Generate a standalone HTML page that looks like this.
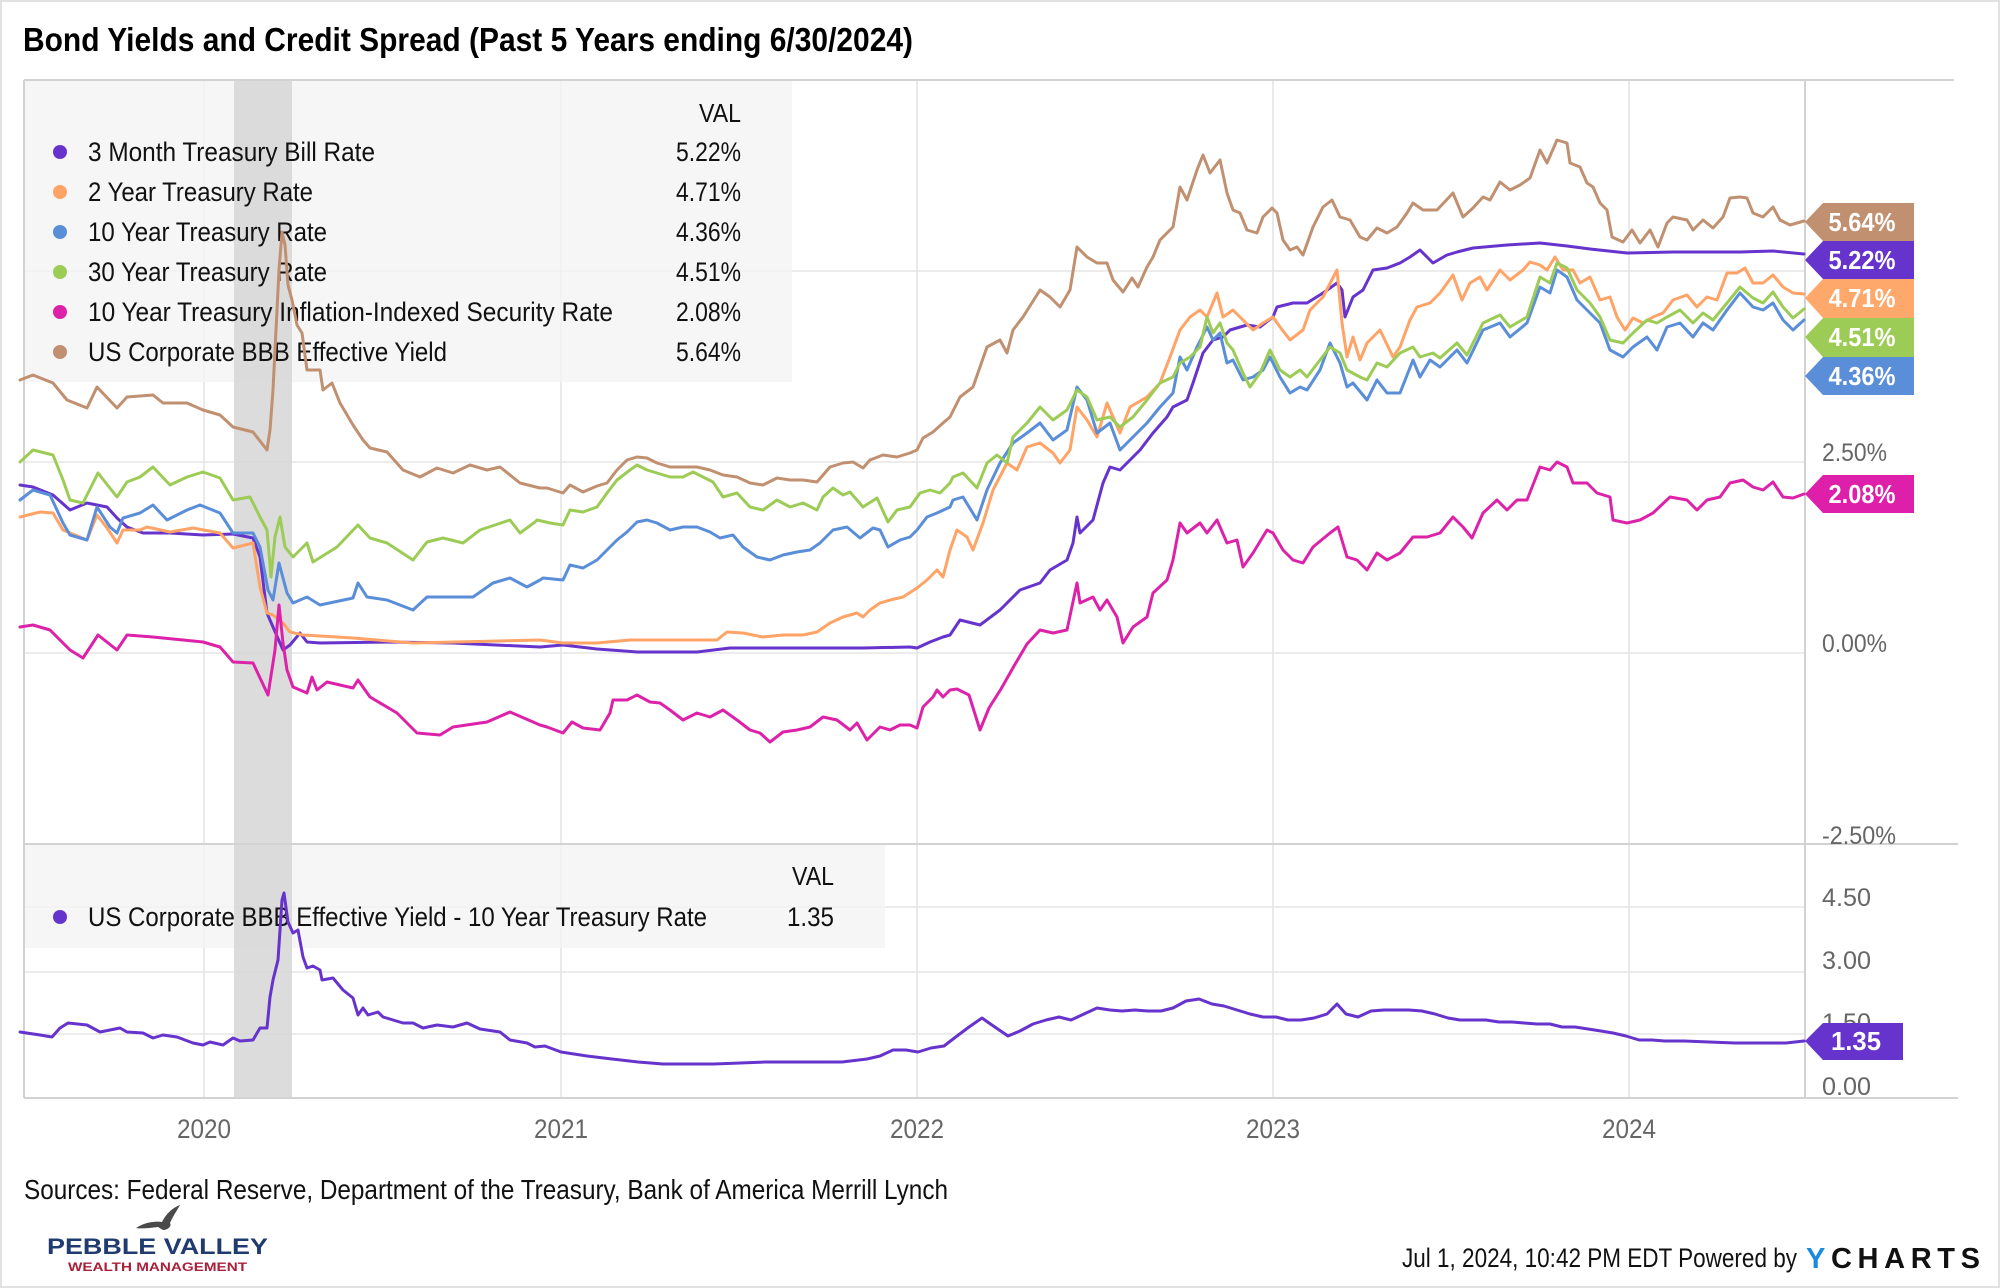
<!DOCTYPE html>
<html>
<head>
<meta charset="utf-8">
<style>
  html,body{margin:0;padding:0;background:#fff;}
  svg{display:block;}
  text{font-family:"Liberation Sans",Arial,sans-serif;}
</style>
</head>
<body>
<svg width="2000" height="1288" viewBox="0 0 2000 1288" xmlns="http://www.w3.org/2000/svg">
  <rect x="0" y="0" width="2000" height="1288" fill="#ffffff"/>
  <rect x="1" y="1" width="1998" height="1286" fill="none" stroke="#e2e2e2" stroke-width="2"/>

  <!-- Title -->
  <text x="23" y="51" font-size="33" font-weight="bold" fill="#000" textLength="890" lengthAdjust="spacingAndGlyphs">Bond Yields and Credit Spread (Past 5 Years ending 6/30/2024)</text>

  <!-- gridlines -->
  <g stroke="#ececec" stroke-width="2">
    <line x1="24" y1="271" x2="1805" y2="271"/>
    <line x1="24" y1="462" x2="1805" y2="462"/>
    <line x1="24" y1="653" x2="1805" y2="653"/>
    <line x1="24" y1="907" x2="1805" y2="907"/>
    <line x1="24" y1="972" x2="1805" y2="972"/>
    <line x1="24" y1="1034" x2="1805" y2="1034"/>
  </g>
  <g stroke="#e4e4e4" stroke-width="1.5">
    <line x1="204" y1="80" x2="204" y2="1098"/>
    <line x1="561" y1="80" x2="561" y2="1098"/>
    <line x1="917" y1="80" x2="917" y2="1098"/>
    <line x1="1273" y1="80" x2="1273" y2="1098"/>
    <line x1="1629" y1="80" x2="1629" y2="1098"/>
  </g>

  <!-- legend boxes -->
  <rect x="24" y="80" width="768" height="302" fill="#f3f3f3" fill-opacity="0.78"/>
  <rect x="24" y="845" width="861" height="103" fill="#f3f3f3" fill-opacity="0.78"/>

  <!-- recession band -->
  <rect x="234" y="80" width="58" height="1018" fill="#d6d6d6" fill-opacity="0.85"/>

  <!-- frame lines -->
  <g stroke="#d2d2d2" stroke-width="2" fill="none">
    <line x1="24" y1="80" x2="1954" y2="80"/>
    <line x1="24" y1="844" x2="1958" y2="844"/>
    <line x1="24" y1="1098" x2="1958" y2="1098"/>
    <line x1="24" y1="80" x2="24" y2="1098"/>
    <line x1="1805" y1="80" x2="1805" y2="1098"/>
  </g>

  <!-- Legend text top -->
  <text x="741" y="122" font-size="26" fill="#111" text-anchor="end" textLength="42" lengthAdjust="spacingAndGlyphs">VAL</text>
  <g font-size="27" fill="#111">
    <circle cx="60" cy="152" r="7" fill="#6633cc"/>
    <text x="88" y="161" textLength="287" lengthAdjust="spacingAndGlyphs">3 Month Treasury Bill Rate</text>
    <text x="741" y="161" text-anchor="end" textLength="65" lengthAdjust="spacingAndGlyphs">5.22%</text>
    <circle cx="60" cy="192" r="7" fill="#ffa366"/>
    <text x="88" y="201" textLength="225" lengthAdjust="spacingAndGlyphs">2 Year Treasury Rate</text>
    <text x="741" y="201" text-anchor="end" textLength="65" lengthAdjust="spacingAndGlyphs">4.71%</text>
    <circle cx="60" cy="232" r="7" fill="#5a8ed9"/>
    <text x="88" y="241" textLength="239" lengthAdjust="spacingAndGlyphs">10 Year Treasury Rate</text>
    <text x="741" y="241" text-anchor="end" textLength="65" lengthAdjust="spacingAndGlyphs">4.36%</text>
    <circle cx="60" cy="272" r="7" fill="#9ccc55"/>
    <text x="88" y="281" textLength="239" lengthAdjust="spacingAndGlyphs">30 Year Treasury Rate</text>
    <text x="741" y="281" text-anchor="end" textLength="65" lengthAdjust="spacingAndGlyphs">4.51%</text>
    <circle cx="60" cy="312" r="7" fill="#dd22aa"/>
    <text x="88" y="321" textLength="525" lengthAdjust="spacingAndGlyphs">10 Year Treasury Inflation-Indexed Security Rate</text>
    <text x="741" y="321" text-anchor="end" textLength="65" lengthAdjust="spacingAndGlyphs">2.08%</text>
    <circle cx="60" cy="352" r="7" fill="#c09070"/>
    <text x="88" y="361" textLength="359" lengthAdjust="spacingAndGlyphs">US Corporate BBB Effective Yield</text>
    <text x="741" y="361" text-anchor="end" textLength="65" lengthAdjust="spacingAndGlyphs">5.64%</text>
  </g>
  <!-- Legend lower -->
  <text x="834" y="885" font-size="26" fill="#111" text-anchor="end" textLength="42" lengthAdjust="spacingAndGlyphs">VAL</text>
  <circle cx="60" cy="917" r="7" fill="#6633cc"/>
  <text x="88" y="926" font-size="27" fill="#111" textLength="619" lengthAdjust="spacingAndGlyphs">US Corporate BBB Effective Yield - 10 Year Treasury Rate</text>
  <text x="834" y="926" font-size="27" fill="#111" text-anchor="end" textLength="47" lengthAdjust="spacingAndGlyphs">1.35</text>

  <!-- Series -->
  <g fill="none" stroke-width="3" stroke-linejoin="round" stroke-linecap="round">
    <polyline stroke="#6633cc" points="20,485 33,487 53,495 70,510 87,503 107,507 117,518 127,527 143,533 170,533 203,535 233,534 253,538 260,557 267,613 273,627 283,650 290,645 300,633 307,642 320,643 387,642 453,643 540,647 563,645 597,649 637,652 697,652 730,648 797,648 863,648 910,647 917,648 930,642 943,637 950,635 960,620 980,625 1000,610 1020,590 1040,583 1050,570 1067,560 1073,543 1077,517 1080,533 1093,520 1103,483 1110,467 1120,470 1130,460 1140,450 1153,433 1167,417 1173,407 1187,400 1193,383 1203,353 1213,340 1223,337 1230,330 1247,325 1260,327 1273,317 1277,307 1293,303 1307,303 1323,293 1337,283 1342,290 1345,317 1353,297 1363,290 1373,270 1387,268 1400,263 1410,257 1420,250 1433,263 1447,255 1457,252 1473,248 1507,245 1540,243 1567,246 1590,249 1627,253 1673,252 1707,252 1740,252 1773,251 1804,254"/>
    <polyline stroke="#ffa366" points="20,517 40,512 53,513 63,530 87,540 97,515 107,528 117,543 123,530 140,530 147,527 170,532 193,528 220,533 233,548 253,543 260,587 267,613 273,615 283,623 290,632 303,635 337,637 353,638 413,643 540,640 563,643 597,643 630,640 663,640 697,640 717,640 727,632 743,633 763,637 783,635 803,635 817,632 830,623 843,617 857,613 863,617 870,610 880,603 890,600 903,597 917,588 927,580 937,570 943,577 950,550 957,530 967,537 973,550 983,523 993,490 1007,463 1017,470 1027,447 1040,443 1053,453 1060,463 1070,450 1077,407 1087,420 1097,437 1107,403 1120,433 1130,407 1147,397 1160,383 1170,357 1180,330 1190,317 1200,310 1207,317 1217,293 1223,317 1233,310 1243,320 1253,330 1263,323 1273,317 1280,327 1290,340 1303,330 1310,310 1323,297 1337,270 1342,323 1347,357 1353,337 1360,360 1367,343 1373,337 1380,330 1393,357 1400,347 1410,320 1417,307 1430,303 1440,293 1453,275 1462,300 1470,283 1480,277 1487,290 1500,270 1510,280 1523,270 1530,262 1540,265 1547,270 1555,257 1563,270 1573,270 1580,283 1590,277 1600,300 1610,297 1617,317 1625,330 1633,318 1643,323 1653,317 1663,313 1673,300 1687,295 1697,307 1707,297 1717,300 1727,273 1737,273 1745,268 1753,283 1763,283 1773,275 1783,287 1793,293 1804,294"/>
    <polyline stroke="#5a8ed9" points="20,500 33,490 50,495 63,523 70,535 87,540 97,507 110,527 117,533 123,518 140,513 153,505 167,520 187,510 200,505 220,513 233,533 253,533 260,547 268,590 273,600 279,563 287,593 293,603 307,597 320,605 353,598 358,583 367,597 387,600 413,610 427,597 453,597 473,597 493,583 510,578 527,587 540,580 543,578 563,580 570,565 583,568 597,560 607,550 617,540 627,532 637,522 647,520 657,523 670,530 683,527 697,527 710,532 720,538 733,535 743,547 757,557 770,560 783,555 797,552 810,550 820,543 833,530 847,527 860,538 873,528 880,530 888,547 900,540 910,537 917,530 927,517 937,513 950,507 953,500 963,497 977,520 987,490 1000,463 1013,443 1027,433 1040,423 1053,440 1067,430 1077,387 1087,400 1097,433 1110,423 1120,450 1133,437 1147,423 1160,407 1173,393 1180,357 1187,370 1197,347 1207,327 1213,340 1220,333 1227,363 1233,360 1243,380 1253,377 1263,370 1270,357 1280,377 1290,393 1300,387 1307,390 1320,370 1330,343 1340,363 1347,387 1353,383 1367,400 1377,380 1387,393 1400,393 1413,360 1420,377 1430,360 1440,367 1457,350 1467,363 1483,330 1500,323 1510,337 1527,323 1540,287 1550,293 1557,270 1567,277 1577,300 1590,313 1600,323 1610,350 1623,357 1633,347 1647,337 1657,350 1667,327 1680,323 1693,337 1703,323 1713,330 1727,310 1740,293 1753,307 1763,310 1773,303 1783,320 1793,330 1804,320"/>
    <polyline stroke="#9ccc55" points="20,462 33,450 53,455 63,480 70,500 83,503 98,473 117,497 127,482 140,477 153,467 170,485 187,477 203,472 220,478 233,500 250,497 260,517 267,530 271,577 275,537 280,517 285,547 293,557 307,543 313,562 337,547 358,525 370,538 387,543 413,560 427,542 443,538 463,543 480,530 510,520 520,533 535,522 537,520 550,523 563,525 570,510 583,512 597,507 607,493 617,480 630,470 637,465 647,470 657,473 670,477 683,477 693,472 703,477 713,482 723,497 737,493 750,507 763,510 777,500 790,507 803,503 817,510 823,497 833,488 843,495 850,492 863,507 877,498 888,522 897,510 910,507 920,493 930,490 940,493 950,483 953,477 963,473 977,488 987,463 997,455 1007,463 1013,437 1027,423 1040,407 1053,420 1067,410 1077,390 1087,397 1097,420 1110,417 1120,427 1133,417 1147,400 1160,383 1173,377 1180,363 1190,357 1200,347 1207,317 1213,333 1220,323 1227,343 1233,350 1243,373 1250,387 1260,373 1270,350 1280,370 1290,377 1300,370 1307,377 1320,360 1330,347 1340,353 1347,370 1360,377 1367,380 1377,363 1387,367 1400,353 1413,347 1420,357 1433,353 1440,358 1457,343 1467,355 1483,323 1500,315 1510,327 1527,317 1540,277 1550,283 1557,263 1567,268 1577,290 1590,303 1600,317 1610,340 1623,343 1633,333 1647,320 1657,323 1667,317 1680,310 1693,323 1703,313 1713,320 1727,303 1740,287 1753,298 1763,303 1773,292 1783,307 1793,318 1804,309"/>
    <polyline stroke="#dd22aa" points="20,627 33,625 50,630 70,650 83,658 98,635 117,650 127,635 153,637 203,642 220,647 233,662 253,663 268,695 275,650 279,605 283,643 287,670 293,687 307,693 312,677 317,690 327,682 353,688 358,680 370,697 397,713 417,733 440,735 453,727 487,722 510,712 540,725 547,727 563,733 572,722 583,728 600,730 610,713 613,700 627,700 637,695 650,702 660,703 670,710 683,720 697,713 710,717 723,710 737,720 750,730 760,733 770,742 783,732 797,730 810,727 823,717 837,720 850,730 857,723 867,740 880,727 890,730 900,725 910,725 917,728 923,707 933,697 937,690 943,697 950,690 957,689 969,695 980,730 989,708 1001,689 1014,666 1027,644 1040,630 1053,633 1067,630 1077,583 1080,603 1093,597 1100,610 1107,600 1117,617 1123,643 1133,627 1147,617 1153,593 1167,580 1173,560 1180,523 1187,533 1200,523 1207,533 1217,520 1227,543 1237,540 1243,567 1253,553 1267,530 1273,533 1283,550 1293,560 1303,563 1313,547 1330,533 1338,527 1347,557 1357,560 1367,570 1377,553 1387,560 1400,553 1413,537 1427,537 1440,533 1453,517 1463,527 1472,538 1483,513 1497,500 1507,510 1517,500 1527,500 1540,467 1550,470 1557,462 1567,467 1573,483 1587,483 1597,493 1610,497 1613,520 1627,523 1640,520 1653,513 1670,497 1687,500 1697,510 1707,500 1720,497 1730,483 1743,480 1753,487 1763,490 1773,482 1783,497 1793,498 1804,494"/>
    <polyline stroke="#c09070" points="20,380 33,375 53,383 67,400 87,408 97,387 117,408 127,397 153,395 163,403 187,403 203,410 220,415 233,427 253,432 267,450 270,430 273,390 276,330 279,270 282,232 285,245 288,285 292,300 297,325 302,333 307,370 320,370 323,390 332,383 340,403 353,425 363,440 370,448 387,452 403,470 420,477 437,468 453,473 470,465 487,470 500,467 520,483 540,488 547,488 563,493 570,485 583,492 597,486 607,483 617,470 627,460 637,457 647,458 657,463 670,467 683,467 697,467 710,470 723,475 737,477 750,483 763,485 777,478 790,480 803,480 817,482 830,467 843,463 853,462 863,468 870,460 883,455 897,457 910,453 917,450 923,438 933,432 943,423 950,417 960,397 973,387 987,347 1000,340 1007,353 1013,330 1023,317 1040,290 1050,297 1060,307 1070,290 1077,247 1087,257 1097,263 1107,263 1113,280 1123,292 1132,278 1138,287 1147,267 1153,257 1160,240 1173,227 1180,187 1187,200 1197,170 1203,155 1210,173 1220,160 1227,193 1233,210 1240,213 1247,230 1257,233 1263,217 1272,208 1277,213 1283,240 1290,250 1297,247 1303,255 1313,227 1323,207 1332,200 1340,217 1350,220 1360,237 1367,240 1377,228 1387,233 1397,227 1407,213 1413,203 1423,210 1437,210 1453,193 1463,217 1473,208 1483,197 1490,200 1500,182 1510,190 1520,185 1530,178 1540,150 1547,163 1557,140 1567,143 1570,163 1580,167 1587,183 1593,187 1600,203 1607,210 1612,237 1623,242 1632,230 1640,243 1650,230 1658,247 1667,223 1673,217 1687,220 1693,230 1703,220 1713,228 1723,217 1730,198 1740,197 1747,198 1753,213 1763,217 1773,207 1780,220 1790,225 1804,221"/>
    <polyline stroke="#6633cc" points="20,1032 40,1035 52,1037 60,1028 68,1023 87,1025 100,1032 120,1028 127,1032 143,1033 153,1038 163,1035 177,1037 193,1043 203,1045 210,1042 223,1045 233,1038 240,1041 253,1040 260,1028 267,1028 270,997 273,980 278,960 282,900 284,893 288,922 293,933 298,930 303,957 307,968 313,966 320,970 322,980 333,978 343,990 353,998 358,1015 363,1008 368,1015 378,1012 383,1017 403,1023 413,1023 423,1028 437,1025 453,1027 467,1023 480,1029 500,1032 510,1040 527,1043 535,1047 545,1046 561,1052 587,1056 612,1059 638,1062 663,1064 714,1064 765,1062 816,1062 842,1062 867,1059 880,1056 893,1050 906,1050 918,1052 931,1048 944,1046 957,1036 969,1027 982,1018 989,1023 1008,1036 1020,1031 1033,1024 1046,1020 1059,1017 1071,1020 1084,1014 1097,1008 1110,1010 1122,1011 1135,1010 1148,1011 1161,1011 1173,1008 1186,1001 1199,999 1212,1004 1224,1006 1237,1010 1250,1014 1263,1017 1276,1017 1288,1020 1301,1020 1314,1018 1327,1014 1337,1004 1346,1014 1358,1017 1371,1011 1384,1010 1397,1010 1409,1010 1422,1011 1435,1014 1448,1018 1460,1020 1473,1020 1486,1020 1499,1022 1512,1022 1524,1023 1537,1024 1550,1024 1562,1027 1575,1027 1588,1029 1601,1031 1613,1033 1626,1036 1639,1040 1652,1040 1665,1041 1684,1041 1709,1042 1735,1043 1760,1043 1786,1043 1804,1041"/>
  </g>

  <!-- Right axis labels -->
  <g font-size="25" fill="#666">
    <text x="1822" y="461" textLength="65" lengthAdjust="spacingAndGlyphs">2.50%</text>
    <text x="1822" y="652" textLength="65" lengthAdjust="spacingAndGlyphs">0.00%</text>
    <text x="1822" y="844" textLength="74" lengthAdjust="spacingAndGlyphs">-2.50%</text>
    <text x="1822" y="906" textLength="49" lengthAdjust="spacingAndGlyphs">4.50</text>
    <text x="1822" y="969" textLength="49" lengthAdjust="spacingAndGlyphs">3.00</text>
    <text x="1822" y="1031" textLength="49" lengthAdjust="spacingAndGlyphs">1.50</text>
    <text x="1822" y="1095" textLength="49" lengthAdjust="spacingAndGlyphs">0.00</text>
  </g>

  <!-- Badges -->
  <g font-size="26" font-weight="bold" fill="#fff" text-anchor="middle">
    <polygon points="1805,222 1823,203 1914,203 1914,241 1823,241" fill="#c09070"/>
    <text x="1862" y="231" textLength="67" lengthAdjust="spacingAndGlyphs">5.64%</text>
    <polygon points="1805,260 1823,241 1914,241 1914,279 1823,279" fill="#6633cc"/>
    <text x="1862" y="269" textLength="67" lengthAdjust="spacingAndGlyphs">5.22%</text>
    <polygon points="1805,298 1823,279 1914,279 1914,318 1823,318" fill="#ffa86c"/>
    <text x="1862" y="307" textLength="67" lengthAdjust="spacingAndGlyphs">4.71%</text>
    <polygon points="1805,337 1823,318 1914,318 1914,357 1823,357" fill="#9ccc55"/>
    <text x="1862" y="346" textLength="67" lengthAdjust="spacingAndGlyphs">4.51%</text>
    <polygon points="1805,376 1823,357 1914,357 1914,395 1823,395" fill="#5a8ed9"/>
    <text x="1862" y="385" textLength="67" lengthAdjust="spacingAndGlyphs">4.36%</text>
    <polygon points="1805,494 1823,475 1914,475 1914,513 1823,513" fill="#dd1faa"/>
    <text x="1862" y="503" textLength="67" lengthAdjust="spacingAndGlyphs">2.08%</text>
    <polygon points="1805,1041 1823,1023 1903,1023 1903,1060 1823,1060" fill="#6633cc"/>
    <text x="1856" y="1050" textLength="50" lengthAdjust="spacingAndGlyphs">1.35</text>
  </g>

  <!-- X axis labels -->
  <g font-size="27" fill="#666" text-anchor="middle">
    <text x="204" y="1138" textLength="54" lengthAdjust="spacingAndGlyphs">2020</text>
    <text x="561" y="1138" textLength="54" lengthAdjust="spacingAndGlyphs">2021</text>
    <text x="917" y="1138" textLength="54" lengthAdjust="spacingAndGlyphs">2022</text>
    <text x="1273" y="1138" textLength="54" lengthAdjust="spacingAndGlyphs">2023</text>
    <text x="1629" y="1138" textLength="54" lengthAdjust="spacingAndGlyphs">2024</text>
  </g>

  <!-- Sources -->
  <text x="24" y="1199" font-size="28" fill="#111" textLength="924" lengthAdjust="spacingAndGlyphs">Sources: Federal Reserve, Department of the Treasury, Bank of America Merrill Lynch</text>

  <!-- Pebble Valley logo -->
  <path d="M136,1228 C145,1222 156,1221 162,1222 C166,1214 172,1208 180,1205 C176,1212 172,1218 170,1223 C172,1226 168,1230 163,1230 L158,1227 C150,1228 142,1229 136,1228 Z" fill="#4a4a4a"/>
  <text x="47" y="1254" font-size="22" font-weight="bold" fill="#1f3b70" textLength="221" lengthAdjust="spacingAndGlyphs">PEBBLE VALLEY</text>
  <text x="68" y="1271" font-size="12" font-weight="bold" fill="#a8203a" textLength="179" lengthAdjust="spacingAndGlyphs">WEALTH MANAGEMENT</text>

  <!-- Footer -->
  <text x="1402" y="1267" font-size="27" fill="#111" textLength="395" lengthAdjust="spacingAndGlyphs">Jul 1, 2024, 10:42 PM EDT Powered by</text>
  <text x="1806" y="1268" font-size="29" font-weight="bold" fill="#111" textLength="174" lengthAdjust="spacing"><tspan fill="#1a8be0">Y</tspan>CHARTS</text>
</svg>
</body>
</html>
